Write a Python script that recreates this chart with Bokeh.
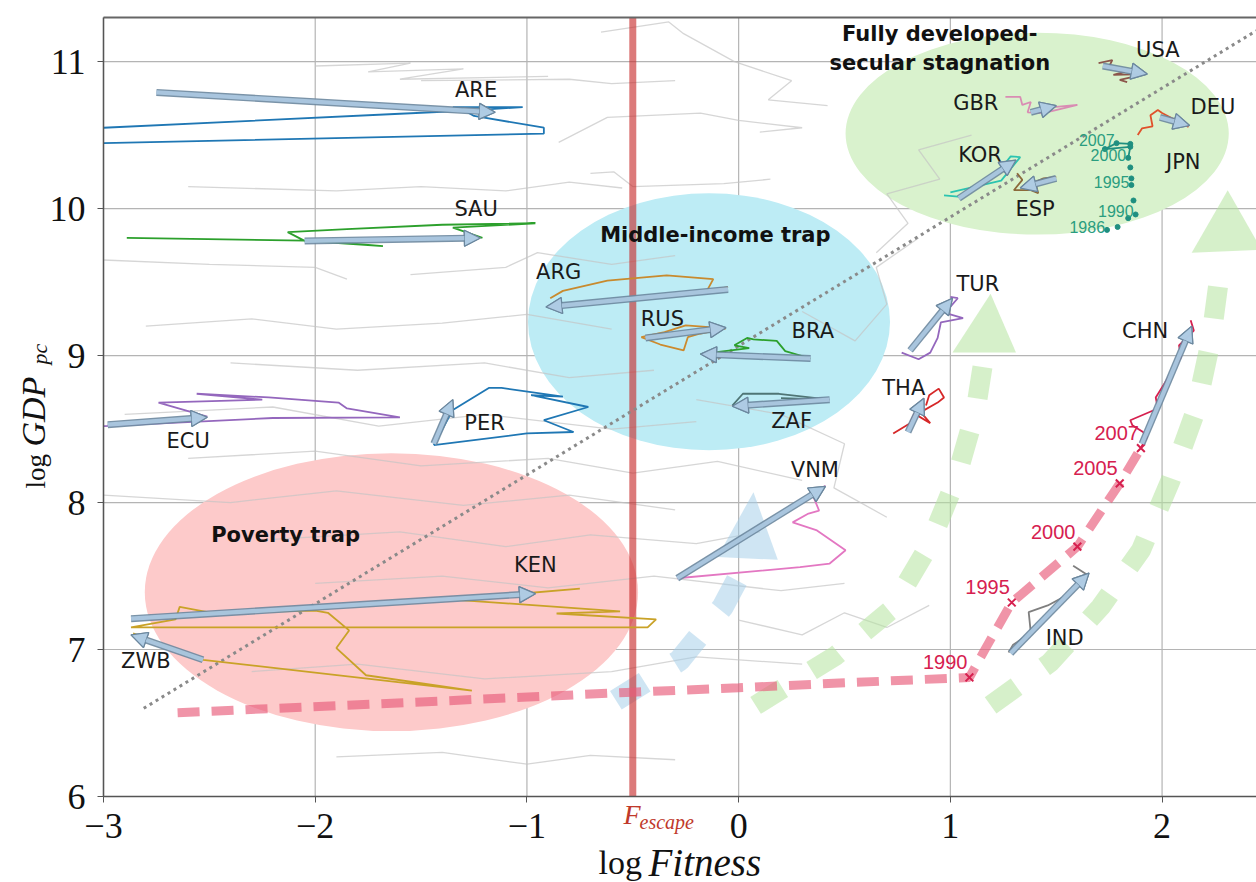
import numpy as np
from bokeh.plotting import figure
from bokeh.models import (ColumnDataSource, Arrow, NormalHead, Range1d, FixedTicker,
                          LinearAxis, CustomJSTickFormatter)
from bokeh.core.properties import value
from bokeh.embed import file_html
from bokeh.resources import INLINE

# ---------------- data ----------------
x_ticks = [-3, -2, -1, 0, 1, 2]
y_ticks = [6, 7, 8, 9, 10, 11]
F_escape = -0.50

# regime ellipses
regime_cx = [-1.64, -0.14, 1.41]
regime_cy = [7.39, 9.23, 10.51]
regime_w = [2.33, 1.71, 1.81]
regime_h = [1.89, 1.75, 1.375]
regime_colors = ["#fdcaca", "#bdecf5", "#d9f2cd"]

title_text = ["Poverty trap", "Middle-income trap", "Fully developed-", "secular stagnation"]
title_x = [-2.14, -0.11, 0.95, 0.95]
title_y = [7.78, 9.82, 11.19, 10.99]

# dotted diagonal
diag_x = [-2.81, 2.445]
diag_y = [6.60, 11.21]

# background (other countries) trajectories
bg_x = [
    [-2.0, -1.55, -1.75, -1.3, -1.6, -0.9],
    [-1.5, -0.8, -0.6, -0.3],
    [-0.65, -0.33, -0.26, -0.02, 0.25, 0.14, 0.42],
    [-0.85, -0.62, -0.18, 0.0, 0.3, 0.1],
    [-2.6, -1.9, -1.5, -1.1, -0.8, -0.55],
    [-0.7, -0.59, -0.5, -0.07, 0.15],
    [-3.0, -2.5, -2.0, -1.85],
    [-1.55, -1.1, -0.95, -0.6, -0.3],
    [-2.8, -2.3, -1.9, -1.4, -1.0, -0.6],
    [-2.4, -1.8, -1.2, -0.8, -0.4],
    [-2.9, -2.2, -1.7, -1.2, -0.6, -0.2],
    [-2.6, -2.0, -1.5, -0.9, -0.5, -0.1, 0.3],
    [-3.0, -2.4, -1.9, -1.3, -0.8, -0.3],
    [-2.2, -1.6, -1.1, -0.7, -0.2, 0.1],
    [-2.0, -1.4, -0.9, -0.4, 0.2, 0.5],
    [-2.3, -1.8, -1.2, -0.6, -0.2, 0.3],
    [-1.9, -1.4, -1.0, -0.7, -0.3],
    [0.65, 0.8, 0.7, 0.95, 0.85, 1.1],
    [0.3, 0.55, 0.7, 0.65, 0.85],
    [-0.2, 0.2, 0.5, 0.45, 0.7],
    [0.0, 0.3, 0.5, 0.7, 0.9],
]
bg_y = [
    [10.97, 10.99, 10.93, 10.95, 10.88, 10.90],
    [10.87, 10.88, 10.85, 10.87],
    [11.20, 11.27, 11.19, 11.00, 10.87, 10.74, 10.70],
    [10.45, 10.62, 10.65, 10.60, 10.55, 10.52],
    [10.15, 10.12, 10.15, 10.12, 10.18, 10.14],
    [10.24, 10.25, 10.15, 10.17, 10.20],
    [9.65, 9.62, 9.60, 9.52],
    [9.55, 9.60, 9.70, 9.62, 9.68],
    [9.20, 9.25, 9.18, 9.22, 9.28, 9.18],
    [8.95, 8.90, 8.95, 8.85, 8.90],
    [8.60, 8.65, 8.52, 8.60, 8.50, 8.55],
    [8.30, 8.35, 8.25, 8.30, 8.20, 8.28, 8.15],
    [8.05, 8.00, 8.08, 7.98, 8.05, 7.95],
    [7.75, 7.80, 7.70, 7.78, 7.72, 7.80],
    [7.45, 7.50, 7.42, 7.50, 7.40, 7.45],
    [6.85, 6.90, 6.80, 6.85, 6.95, 6.90],
    [6.27, 6.30, 6.22, 6.28, 6.25],
    [9.70, 9.90, 10.10, 10.20, 10.40, 10.50],
    [9.30, 9.10, 9.35, 9.60, 9.80],
    [8.70, 8.60, 8.40, 8.10, 7.90],
    [7.20, 7.10, 7.25, 7.15, 7.30],
]

# big schematic paths
pink_x = [-2.65, -1.55, -0.50, 0.00, 0.53, 1.09, 1.175, 1.29, 1.60, 1.80, 1.90]
pink_y = [6.57, 6.64, 6.71, 6.74, 6.775, 6.81, 7.03, 7.32, 7.70, 8.13, 8.37]
green_l_x = [0.08, 0.46, 0.72, 0.90, 1.025, 1.12, 1.16]
green_l_y = [6.62, 6.96, 7.27, 7.71, 8.15, 8.63, 9.00]
green_l_head_x = [1.01, 1.31, 1.19]
green_l_head_y = [9.02, 9.02, 9.42]
green_r_x = [1.19, 1.47, 1.71, 1.90, 2.04, 2.16, 2.23, 2.28]
green_r_y = [6.62, 6.91, 7.29, 7.675, 8.15, 8.63, 9.10, 9.64]
green_r_head_x = [2.14, 2.47, 2.31]
green_r_head_y = [9.70, 9.72, 10.125]
blue_x = [-0.58, -0.28, -0.075, 0.035]
blue_y = [6.655, 6.925, 7.29, 7.59]
blue_head_x = [-0.10, 0.185, 0.07]
blue_head_y = [7.63, 7.61, 8.07]

# China years (markers on pink path)
chn_year_text = ["1990", "1995", "2000", "2005", "2007"]
chn_year_x = [1.09, 1.29, 1.60, 1.80, 1.90]
chn_year_y = [6.81, 7.32, 7.70, 8.13, 8.37]

# country trajectories
are_x = [-3.0, -0.92, -0.92, -1.25, -1.31, -1.35, -1.02, -1.30, -1.60, -3.0]
are_y = [10.445, 10.51, 10.55, 10.63, 10.68, 10.69, 10.69, 10.665, 10.645, 10.55]
sau_x = [-2.89, -1.97, -1.68, -2.05, -2.13, -1.85, -1.40, -0.96, -1.35, -1.21]
sau_y = [9.80, 9.78, 9.745, 9.78, 9.84, 9.86, 9.89, 9.90, 9.87, 9.80]
arg_x = [-0.89, -0.83, -0.62, -0.46, -0.34, -0.12, -0.15, -0.05]
arg_y = [9.39, 9.44, 9.51, 9.53, 9.545, 9.52, 9.44, 9.465]
rus_x = [-0.46, -0.35, -0.25, -0.06, -0.18, -0.24, -0.26, -0.37, -0.46]
rus_y = [9.125, 9.16, 9.205, 9.185, 9.15, 9.125, 9.035, 9.075, 9.125]
bra_x = [-0.18, 0.05, -0.02, 0.04, 0.07, 0.18, 0.22, 0.34]
bra_y = [9.01, 9.05, 9.07, 9.12, 9.11, 9.10, 9.03, 8.98]
zaf_x = [-0.03, 0.02, 0.19, 0.43, 0.20]
zaf_y = [8.66, 8.74, 8.74, 8.70, 8.71]
per_x = [-1.44, -1.35, -1.18, -1.12, -0.83, -0.98, -0.71, -0.92, -0.78, -1.00, -1.44]
per_y = [8.39, 8.63, 8.78, 8.78, 8.72, 8.73, 8.65, 8.56, 8.48, 8.47, 8.39]
ecu_x = [-2.98, -2.51, -2.74, -2.25, -2.56, -2.22, -1.89, -1.85, -1.60, -2.20, -3.0]
ecu_y = [8.525, 8.585, 8.68, 8.70, 8.74, 8.715, 8.68, 8.64, 8.58, 8.575, 8.52]
ken_x = [-0.75, -1.35, -0.56, -0.86, -0.39, -0.43, -2.87, -2.66, -2.64, -2.49, -2.00, -1.94,
         -1.84, -1.90, -1.76, -1.26, -2.53, -2.86]
ken_y = [7.415, 7.34, 7.26, 7.245, 7.205, 7.15, 7.15, 7.205, 7.29, 7.25, 7.265, 7.25,
         7.13, 7.01, 6.825, 6.72, 6.93, 7.11]
vnm_x = [0.41, 0.35, 0.38, 0.33, 0.255, 0.37, 0.505, 0.43, 0.29, -0.29]
vnm_y = [8.115, 8.05, 7.945, 7.925, 7.865, 7.81, 7.675, 7.585, 7.56, 7.485]
tur_x = [0.77, 0.85, 0.905, 0.94, 0.955, 1.06, 0.975, 1.035, 1.00]
tur_y = [9.02, 8.975, 9.02, 9.12, 9.225, 9.255, 9.29, 9.39, 9.40]
tha_x = [0.73, 0.81, 0.83, 0.905, 0.86, 0.94, 0.97, 0.945, 0.90, 0.885]
tha_y = [8.47, 8.54, 8.605, 8.54, 8.615, 8.68, 8.715, 8.775, 8.73, 8.66]
chn_x = [1.90, 1.93, 1.91, 1.86, 1.85, 1.98, 1.97, 2.09, 2.08, 2.15, 2.135]
chn_y = [8.375, 8.445, 8.48, 8.525, 8.56, 8.64, 8.715, 8.99, 9.07, 9.17, 9.24]
ind_x = [1.275, 1.295, 1.38, 1.37, 1.46, 1.565, 1.65, 1.58]
ind_y = [6.98, 7.03, 7.115, 7.255, 7.30, 7.38, 7.505, 7.57]
usa_x = [1.70, 1.765, 1.745, 1.825, 1.77, 1.92, 1.80, 1.835]
usa_y = [10.99, 11.01, 10.955, 10.93, 10.91, 10.915, 10.875, 10.86]
gbr_x = [1.26, 1.33, 1.34, 1.38, 1.365, 1.44, 1.60, 1.45]
gbr_y = [10.76, 10.76, 10.705, 10.725, 10.655, 10.65, 10.705, 10.685]
deu_x = [1.885, 1.905, 1.955, 1.945, 1.98, 2.00, 2.125]
deu_y = [10.50, 10.545, 10.56, 10.635, 10.67, 10.65, 10.555]
kor_x = [0.97, 1.05, 1.215, 1.26, 1.285, 1.33, 1.24, 1.00]
kor_y = [10.09, 10.08, 10.24, 10.31, 10.355, 10.35, 10.19, 10.11]
esp_x = [1.315, 1.34, 1.30, 1.38, 1.415, 1.40, 1.44, 1.50]
esp_y = [10.24, 10.195, 10.125, 10.125, 10.105, 10.18, 10.205, 10.215]
jpn_x = [1.74, 1.79, 1.84, 1.875, 1.865, 1.855, 1.855, 1.85, 1.84, 1.85, 1.73, 1.785, 1.85]
jpn_y = [9.855, 9.875, 9.935, 9.96, 10.055, 10.16, 10.205, 10.28, 10.345, 10.42, 10.405, 10.445, 10.44]
jpn_year_text = ["1986", "1990", "1995", "2000", "2007"]
jpn_year_x = [1.74, 1.875, 1.855, 1.84, 1.785]
jpn_year_y = [9.855, 9.96, 10.16, 10.345, 10.445]

country_colors = {
    "ARE": "#1f77b4", "SAU": "#2ca02c", "ARG": "#c88a2e", "RUS": "#cc8a2e", "BRA": "#2ca02c",
    "ZAF": "#4f7575", "PER": "#1f77b4", "ECU": "#9467bd", "KEN": "#c9a227", "VNM": "#e377c2",
    "TUR": "#9467bd", "THA": "#d62728", "CHN": "#d6204f", "IND": "#7f7f7f", "USA": "#8c564b",
    "GBR": "#d98cb3", "DEU": "#e0522b", "KOR": "#2bc4b0", "ESP": "#8c6a3b",
}

# net-displacement arrows
arrow_country = ["ARE", "SAU", "ARG", "RUS", "BRA", "ZAF", "PER", "ECU", "KEN", "ZWB", "VNM",
                 "TUR", "THA", "CHN", "IND", "USA", "GBR", "DEU", "KOR", "ESP"]
arrow_x0 = [-2.75, -2.05, -0.05, -0.44, 0.34, 0.43, -1.44, -2.98, -2.87, -2.53, -0.29,
            0.81, 0.80, 1.905, 1.285, 1.72, 1.38, 1.99, 1.04, 1.50]
arrow_y0 = [10.79, 9.78, 9.45, 9.12, 8.98, 8.70, 8.40, 8.53, 7.21, 6.93, 7.485,
            9.035, 8.48, 8.40, 6.975, 10.97, 10.655, 10.62, 10.07, 10.205]
arrow_x1 = [-1.15, -1.22, -0.91, -0.06, -0.18, -0.03, -1.35, -2.51, -0.96, -2.87, 0.41,
            1.01, 0.875, 2.14, 1.655, 1.93, 1.50, 2.13, 1.31, 1.33]
arrow_y1 = [10.655, 9.80, 9.33, 9.19, 9.01, 8.655, 8.70, 8.58, 7.38, 7.10, 8.11,
            9.39, 8.71, 9.20, 7.52, 10.915, 10.70, 10.565, 10.33, 10.14]

label_text = ["ARE", "SAU", "ARG", "RUS", "BRA", "ZAF", "PER", "ECU", "VNM", "KEN", "ZWB",
              "TUR", "THA", "CHN", "IND", "USA", "GBR", "DEU", "KOR", "ESP", "JPN"]
label_x = [-1.24, -1.24, -0.85, -0.36, 0.35, 0.25, -1.20, -2.60, 0.36, -0.96, -2.80,
           1.13, 0.78, 1.92, 1.54, 1.98, 1.12, 2.24, 1.14, 1.40, 2.10]
label_y = [10.81, 10.00, 9.57, 9.25, 9.165, 8.555, 8.54, 8.42, 8.22, 7.575, 6.925,
           9.49, 8.78, 9.17, 7.08, 11.08, 10.72, 10.69, 10.365, 10.00, 10.315]

SERIF = "Liberation Serif"

# ---------------- geometry: data box inside a full-canvas frame ----------------
W, H = 1256, 882
PAD_L, PAD_T, PAD_B = 103, 17, 86
X0, X1 = -3.0, 2.446
Y0, Y1 = 6.0, 11.30
ux = (X1 - X0) / (W - PAD_L)
uy = (Y1 - Y0) / (H - PAD_T - PAD_B)

p = figure(width=W, height=H, title=None, toolbar_location=None, output_backend="svg",
           x_range=Range1d(X0 - PAD_L * ux, X1), y_range=Range1d(Y0 - PAD_B * uy, Y1 + PAD_T * uy),
           x_axis_type=None, y_axis_type=None,
           min_border_left=0, min_border_right=0, min_border_top=0, min_border_bottom=0)
p.outline_line_color = None
p.background_fill_color = "white"
p.border_fill_color = "white"

# grid lines at the tick positions
p.segment(x0=x_ticks, y0=[Y0] * len(x_ticks), x1=x_ticks, y1=[Y1] * len(x_ticks),
          line_color="#b4b4b4", line_width=1.2)
p.segment(x0=[X0] * len(y_ticks), y0=y_ticks, x1=[X1] * len(y_ticks), y1=y_ticks,
          line_color="#b4b4b4", line_width=1.2)

p.ellipse(x=regime_cx, y=regime_cy, width=regime_w, height=regime_h,
          fill_color=regime_colors, line_color=None)

p.multi_line(bg_x, bg_y, line_color="#c4c4c4", line_alpha=0.7, line_width=1.3)

p.line(green_l_x, green_l_y, line_color="#b4e49e", line_alpha=0.55, line_width=20,
       line_dash="32 34", line_cap="butt")
p.patch(green_l_head_x, green_l_head_y, fill_color="#b4e49e", fill_alpha=0.55, line_color=None)
p.line(green_r_x, green_r_y, line_color="#b4e49e", line_alpha=0.55, line_width=20,
       line_dash="32 34", line_cap="butt")
p.patch(green_r_head_x, green_r_head_y, fill_color="#b4e49e", fill_alpha=0.55, line_color=None)
p.line(blue_x, blue_y, line_color="#9fcbe8", line_alpha=0.5, line_width=22,
       line_dash="34 36", line_cap="butt")
p.patch(blue_head_x, blue_head_y, fill_color="#9fcbe8", fill_alpha=0.5, line_color=None)

p.line([F_escape, F_escape], [Y0, Y1], line_color="#c62828", line_alpha=0.62, line_width=7)

p.line(diag_x, diag_y, line_color="#8a8a8a", line_width=3, line_dash="3 4")

p.line(pink_x, pink_y, line_color="#e85a7a", line_alpha=0.65, line_width=9,
       line_dash="22 12", line_cap="butt")

tracks = [("ARE", are_x, are_y), ("SAU", sau_x, sau_y), ("ARG", arg_x, arg_y),
          ("RUS", rus_x, rus_y), ("BRA", bra_x, bra_y), ("ZAF", zaf_x, zaf_y),
          ("PER", per_x, per_y), ("ECU", ecu_x, ecu_y), ("KEN", ken_x, ken_y),
          ("VNM", vnm_x, vnm_y), ("TUR", tur_x, tur_y), ("THA", tha_x, tha_y),
          ("CHN", chn_x, chn_y), ("IND", ind_x, ind_y), ("USA", usa_x, usa_y),
          ("GBR", gbr_x, gbr_y), ("DEU", deu_x, deu_y), ("KOR", kor_x, kor_y),
          ("ESP", esp_x, esp_y)]
for name, xs, ys in tracks:
    p.line(xs, ys, line_color=country_colors[name], line_width=1.8)

p.line(jpn_x[8:], jpn_y[8:], line_color="#1f8f80", line_width=1.8)
p.scatter(jpn_x, jpn_y, size=5, color="#1f8f80")
p.text(jpn_year_x, jpn_year_y, text=jpn_year_text, text_font=value("Liberation Sans"),
       text_font_size="16px", text_color="#2a9d7f", text_align="right",
       text_baseline="middle", x_offset=-2, y_offset=-3)

p.scatter(chn_year_x, chn_year_y, marker="x", size=11, line_color="#d6204f", line_width=2)
p.text(chn_year_x, chn_year_y, text=chn_year_text, text_font=value("Liberation Sans"),
       text_font_size="20px", text_color="#d6204f", text_align="right",
       text_baseline="middle", x_offset=-2, y_offset=-15)

asrc = ColumnDataSource(dict(x0=arrow_x0, y0=arrow_y0, x1=arrow_x1, y1=arrow_y1))
for lw, col in ((7, "#6b879e"), (4.2, "#aecbe3")):
    p.add_layout(Arrow(end=NormalHead(size=16, fill_color="#aecbe3", fill_alpha=0.9,
                                      line_color="#6b879e", line_width=1.2),
                       x_start="x0", y_start="y0", x_end="x1", y_end="y1", source=asrc,
                       line_color=col, line_width=lw, line_alpha=0.9))

p.text(label_x, label_y, text=label_text, text_font=value("DejaVu Sans"), text_font_size="21px",
       text_color="#1a1a1a", text_align="center", text_baseline="middle")

p.text(title_x, title_y, text=title_text, text_font=value("DejaVu Sans"), text_font_size="21px",
       text_font_style="bold", text_color="#111111", text_align="center", text_baseline="middle")

# top border of the data box
p.line([X0, X1], [Y1, Y1], line_color="#666666", line_width=2)

# ---------------- axes (fixed at the data box edges) ----------------
xa = LinearAxis(fixed_location=Y0, bounds=(X0, X1), ticker=FixedTicker(ticks=x_ticks),
                formatter=CustomJSTickFormatter(
                    code="return tick < 0 ? '\\u2212' + Math.abs(tick) : String(tick);"))
ya = LinearAxis(fixed_location=X0, bounds=(Y0, Y1), ticker=FixedTicker(ticks=y_ticks))
for ax in (xa, ya):
    ax.major_label_text_font = SERIF
    ax.major_label_text_font_size = "36px"
    ax.major_label_text_color = "#111111"
    ax.axis_line_color = "#555555"
    ax.axis_line_width = 1.5
    ax.major_tick_line_color = "#555555"
    ax.major_tick_out = 6
    ax.major_tick_in = 0
    ax.minor_tick_line_color = None
xa.major_label_standoff = 11
ya.major_label_standoff = 12
p.add_layout(xa, "below")
p.add_layout(ya, "left")

# F_escape tick label (red) and axis titles, placed below / left of the data box
p.text([X0 + (623 - PAD_L) * ux], [Y0 - 18 * uy], text=["F"], text_font=value(SERIF),
       text_font_style="italic", text_font_size="28px", text_color="#c0392b",
       text_align="left", text_baseline="middle")
p.text([X0 + (639 - PAD_L) * ux], [Y0 - 25 * uy], text=["escape"], text_font=value(SERIF),
       text_font_style="italic", text_font_size="20px", text_color="#c0392b",
       text_align="left", text_baseline="middle")
p.text([X0 + (598 - PAD_L) * ux], [Y0 - 66 * uy], text=["log"], text_font=value(SERIF),
       text_font_size="34px", text_color="#111111", text_align="left",
       text_baseline="middle")
p.text([X0 + (648 - PAD_L) * ux], [Y0 - 66 * uy], text=["Fitness"], text_font=value(SERIF),
       text_font_style="italic", text_font_size="39px", text_color="#111111",
       text_align="left", text_baseline="middle")
p.text([X0 - 67.5 * ux], [Y0 + 308 * uy], text=["log"], text_font=value(SERIF),
       text_font_size="27px", text_color="#111111", text_align="left",
       text_baseline="middle", angle=np.pi / 2)
p.text([X0 - 70.5 * ux], [Y0 + 350 * uy], text=["GDP"], text_font=value(SERIF),
       text_font_style="italic", text_font_size="34px", text_color="#111111",
       text_align="left", text_baseline="middle", angle=np.pi / 2)
p.text([X0 - 64.4 * ux], [Y0 + 432 * uy], text=["pc"], text_font=value(SERIF),
       text_font_style="italic", text_font_size="22px", text_color="#111111",
       text_align="left", text_baseline="middle", angle=np.pi / 2)

open("out.html", "w").write(file_html(p, INLINE))
